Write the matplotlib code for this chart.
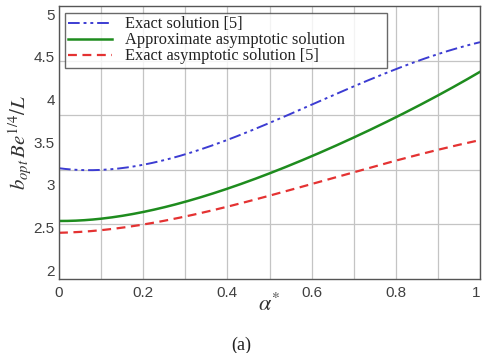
import numpy as np
import matplotlib
matplotlib.use("Agg")
import matplotlib.pyplot as plt
from matplotlib.ticker import FixedLocator

plt.rcParams["mathtext.fontset"] = "stix"

alpha = [0.0, 0.1, 0.2, 0.3, 0.4, 0.5, 0.6, 0.7, 0.8, 0.9, 1.0]
exact = [3.195, 3.171, 3.230, 3.359, 3.535, 3.722, 3.922, 4.156, 4.367, 4.520, 4.672]
approx = [2.577, 2.597, 2.683, 2.800, 2.949, 3.148, 3.324, 3.546, 3.793, 4.051, 4.320]
exact_asym = [2.436, 2.468, 2.535, 2.624, 2.741, 2.878, 3.007, 3.140, 3.289, 3.406, 3.523]

labels = ["Exact solution [5]", "Approximate asymptotic solution", "Exact asymptotic solution [5]"]
yticks = [2, 2.5, 3, 3.5, 4, 4.5, 5]
xticks = [0, 0.2, 0.4, 0.6, 0.8, 1]

BLUE = "#3c3cd2"
GREEN = "#1e8c1e"
RED = "#e43232"
GRID = "#c4c4c4"
SPINE = "#555555"
TICK_INK = "#404040"

fig = plt.figure(figsize=(4.82, 3.53), dpi=100)
ax = fig.add_axes([59 / 482, 74 / 353, 421 / 482, 273 / 353])

# smooth the read-off points for display
xs = np.linspace(0, 1, 200)
def smooth(y):
    c = np.polyfit(alpha, y, 4)
    return np.polyval(c, xs)

ax.plot(xs, smooth(exact), color=BLUE, lw=1.4, linestyle=(0, (6, 2, 1.5, 2, 1.5, 2)), label=labels[0])
ax.plot(xs, smooth(approx), color=GREEN, lw=1.8, label=labels[1])
ax.plot(xs, smooth(exact_asym), color=RED, lw=1.6, linestyle=(0, (4, 2.5)), label=labels[2])

ymin, ymax = 1.895, 5.094
ax.set_xlim(0, 1)
ax.set_ylim(ymin, ymax)
ax.set_xticks(xticks)
ax.set_xticklabels(["0", "0.2", "0.4", "0.6", "0.8", "1"])
ax.xaxis.set_minor_locator(FixedLocator([0.1, 0.3, 0.5, 0.7, 0.9]))
ax.set_yticks(yticks)
ax.set_yticklabels(["2", "2.5", "3", "3.5", "4", "4.5", "5"])
ygrid = [ymin + (ymax - ymin) * k / 5 for k in range(1, 5)]
ax.yaxis.set_minor_locator(FixedLocator(ygrid))

ax.grid(True, axis="x", which="both", color=GRID, lw=0.9)
ax.grid(True, axis="y", which="minor", color=GRID, lw=0.9)
ax.grid(False, axis="y", which="major")
ax.set_axisbelow(True)

ax.tick_params(axis="both", which="both", direction="in", length=0, colors=TICK_INK, labelsize=11)
ax.tick_params(axis="x", pad=5)
ax.tick_params(axis="y", pad=3)
for lab in ax.get_xticklabels() + ax.get_yticklabels():
    lab.set_family("Liberation Sans")
ax.get_xticklabels()[-1].set_ha("right")

for s in ax.spines.values():
    s.set_color(SPINE)
    s.set_linewidth(1.0)

ax.set_ylabel(r"$b_{opt}\,Be^{1/4}/L$", fontsize=15, color="#333333", labelpad=0)
ax.set_xlabel(r"$\alpha^{*}$", fontsize=16, color="#333333", labelpad=-5)

leg = ax.legend(loc="upper left", bbox_to_anchor=(0.014, 0.791, 0.765, 0.183), mode="expand",
                frameon=True, fancybox=False,
                prop={"family": "Liberation Serif", "size": 11.8}, handlelength=2.7,
                handletextpad=0.75, borderpad=0.2, labelspacing=0.0, borderaxespad=0.0)
leg.get_frame().set_edgecolor("#444444")
leg.get_frame().set_linewidth(1.0)
for t in leg.get_texts():
    t.set_color("#222222")

fig.text(241 / 482, 1 - 345 / 353, "(a)", ha="center", va="center",
         family="Liberation Serif", fontsize=13, color="#222222")

fig.savefig("out.png", dpi=100, facecolor="white")
